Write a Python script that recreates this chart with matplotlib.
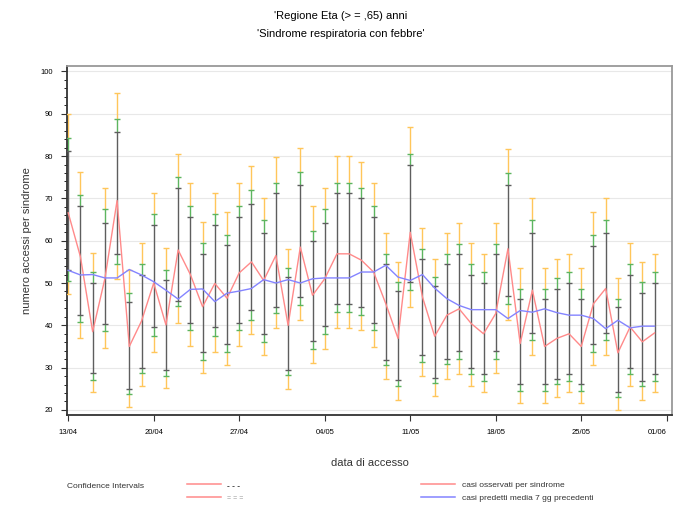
import numpy as np
import matplotlib
matplotlib.use("Agg")
import matplotlib.pyplot as plt

plt.rcParams["font.family"] = ["Liberation Sans", "DejaVu Sans"]

# days since 13/04
days = list(range(49))

obs = [66.6, 56.2, 38.5, 51.0, 69.5, 35.0, 41.0, 50.0, 40.1, 57.8,
       52.0, 44.4, 49.9, 46.4, 52.4, 55.0, 50.6, 56.5, 40.0, 58.5,
       47.1, 51.0, 56.9, 56.9, 55.4, 52.6, 45.1, 36.9, 62.0, 46.7,
       37.4, 42.4, 43.9, 40.4, 38.0, 42.8, 58.1, 35.7, 48.3, 35.0,
       36.9, 38.0, 35.0, 45.1, 48.7, 33.5, 39.6, 36.1, 38.2]

pred = [53.0, 51.9, 52.0, 51.2, 51.2, 53.2, 51.9, 50.3, 48.3, 46.2,
        48.5, 48.6, 45.6, 47.6, 48.1, 48.7, 50.8, 50.0, 50.8, 50.0,
        51.0, 51.2, 51.2, 51.2, 52.6, 52.6, 54.2, 51.4, 50.6, 52.0,
        48.8, 46.3, 44.7, 43.7, 43.7, 43.7, 41.6, 43.5, 43.1, 43.9,
        43.0, 42.4, 42.4, 41.6, 39.2, 41.2, 39.4, 39.8, 39.8]

# interval limits: outer (orange), middle (green), inner (black)
orange_hi = [90.0, 76.3, 57.0, 72.4, 95.0, 53.1, 59.4, 71.3, 58.2, 80.6,
             73.7, 64.4, 71.3, 66.8, 73.7, 77.6, 70.1, 79.9, 58.1, 81.9,
             68.1, 72.5, 80.0, 80.0, 78.7, 73.7, 61.8, 55.0, 86.9, 63.1,
             55.6, 61.8, 64.3, 59.4, 56.9, 64.3, 81.7, 53.6, 70.1, 53.6,
             55.6, 56.9, 53.6, 66.9, 70.1, 51.3, 59.4, 55.0, 56.9]
green_hi = [84.3, 70.7, 52.5, 67.4, 88.7, 47.6, 54.4, 66.2, 53.1, 75.0,
            68.1, 59.4, 66.2, 61.4, 68.1, 71.9, 65.0, 73.7, 53.6, 76.2,
            62.4, 67.4, 73.7, 73.7, 72.5, 68.1, 56.9, 50.2, 80.6, 58.1,
            51.4, 56.9, 59.3, 54.4, 52.5, 59.3, 76.1, 48.7, 65.0, 48.7,
            51.3, 52.5, 48.7, 61.3, 65.0, 46.3, 54.4, 50.2, 52.5]
black_hi = [81.3, 68.3, 50.0, 64.3, 85.7, 45.6, 51.9, 63.7, 50.7, 72.4,
            65.7, 56.9, 63.7, 59.0, 65.7, 68.7, 61.8, 71.3, 51.4, 73.1,
            59.9, 64.3, 71.3, 71.3, 70.1, 65.6, 54.6, 48.1, 78.0, 55.6,
            49.4, 54.4, 56.9, 51.8, 50.1, 56.9, 73.1, 46.3, 61.9, 46.3,
            48.7, 50.1, 46.3, 58.7, 61.9, 44.3, 51.8, 47.6, 50.1]
black_lo = [53.0, 42.5, 28.8, 40.3, 56.9, 24.9, 30.0, 39.5, 29.5, 45.8,
            40.5, 33.8, 39.5, 35.6, 40.5, 43.7, 38.0, 44.3, 29.4, 46.7,
            36.2, 39.8, 45.1, 45.1, 44.3, 40.6, 31.9, 27.0, 50.2, 33.1,
            27.6, 32.1, 33.9, 30.0, 28.6, 33.9, 46.9, 26.2, 38.2, 26.2,
            27.4, 28.6, 26.2, 35.5, 38.2, 24.3, 30.0, 26.9, 28.6]
green_lo = [50.5, 40.9, 27.1, 38.6, 54.6, 23.8, 28.7, 37.5, 28.0, 44.6,
            39.0, 31.8, 37.5, 33.8, 39.0, 41.3, 36.1, 42.8, 28.2, 44.9,
            34.3, 38.0, 43.1, 43.1, 42.4, 38.8, 30.6, 25.6, 48.3, 31.3,
            26.4, 30.8, 32.1, 28.6, 26.9, 32.0, 45.1, 24.4, 36.5, 24.4,
            26.1, 26.9, 24.4, 33.7, 36.5, 23.1, 28.6, 25.6, 26.9]
orange_lo = [47.5, 37.0, 24.3, 34.6, 50.9, 20.8, 25.7, 33.8, 25.1, 40.6,
             35.0, 28.7, 33.8, 30.6, 35.0, 38.0, 33.1, 39.4, 24.9, 41.2,
             31.2, 34.3, 39.4, 39.4, 38.8, 34.9, 27.4, 22.4, 44.3, 28.0,
             23.2, 27.4, 28.6, 25.6, 24.3, 28.7, 41.3, 21.7, 33.1, 21.7,
             23.1, 24.3, 21.7, 30.6, 33.1, 19.9, 25.6, 22.4, 24.3]

week_pos = [0, 7, 14, 21, 28, 35, 42, 49]
week_lab = ["13/04", "20/04", "27/04", "04/05", "11/05", "18/05", "25/05", "01/06"]

ORANGE = "#FFC65A"
GREEN = "#5DB55F"
BLACK = "#5E5E5E"
RED = "#FF8A8A"
BLUE = "#8484FF"

fig = plt.figure(figsize=(6.75, 5.07), dpi=100)
ax = fig.add_axes([67 / 675, 1 - 415 / 507, 605 / 675, 349 / 507])

x = np.array(days)
for y in range(20, 101, 10):
    ax.axhline(y, color="#E8E8E8", lw=0.8, zorder=0)

# interval bars
ax.vlines(x, green_hi, orange_hi, color=ORANGE, lw=1.0, zorder=2)
ax.vlines(x, orange_lo, green_lo, color=ORANGE, lw=1.0, zorder=2)
ax.vlines(x, black_hi, green_hi, color=GREEN, lw=1.0, zorder=2)
ax.vlines(x, green_lo, black_lo, color=GREEN, lw=1.0, zorder=2)
ax.vlines(x, black_lo, black_hi, color=BLACK, lw=1.0, zorder=2)
for vals, col in [(orange_hi, ORANGE), (orange_lo, ORANGE),
                  (green_hi, GREEN), (green_lo, GREEN),
                  (black_hi, BLACK), (black_lo, BLACK)]:
    ax.plot(x, vals, ls="none", marker="_", ms=5, mew=1.0, color=col, zorder=3)

ax.plot(x, obs, color=RED, lw=1.0, zorder=4)
ax.plot(x, pred, color=BLUE, lw=1.0, zorder=4)

ax.set_xlim(-0.1, 49.43)
ax.set_ylim(18.8, 101.3)
ax.set_xticks(week_pos)
ax.set_xticklabels(week_lab)
ax.get_xticklabels()[-1].set_horizontalalignment("right")
ax.set_yticks(range(20, 101, 10))
ax.set_yticks(range(20, 101, 2), minor=True)
ax.tick_params(axis="both", labelsize=5.5, color="#333333", width=0.8, length=4, pad=6)
ax.tick_params(axis="y", which="minor", length=2.5, width=0.6)
for s in ax.spines.values():
    s.set_color("#999999")
    s.set_linewidth(1.3)
ax.spines["left"].set_color("#333333")
ax.spines["bottom"].set_color("#333333")

ax.set_ylabel("numero accessi per sindrome", fontsize=8, color="#333333", labelpad=6)
ax.set_xlabel("data di accesso", fontsize=8, color="#333333", labelpad=16)

fig.text(0.505, 1 - 16 / 507, "'Regione Eta (> = ,65) anni", ha="center", va="center", fontsize=8)
fig.text(0.505, 1 - 34 / 507, "'Sindrome respiratoria con febbre'", ha="center", va="center", fontsize=8)

# legend
def fx(px):
    return px / 675

def fy(py):
    return 1 - py / 507

fig.text(fx(67), fy(487), "Confidence Intervals", fontsize=6, va="center", color="#333333")
fig.add_artist(plt.Line2D([fx(187), fx(221)], [fy(484), fy(484)], color=RED, lw=1.1))
fig.add_artist(plt.Line2D([fx(187), fx(221)], [fy(497), fy(497)], color=RED, lw=1.1))
fig.text(fx(227), fy(487), "- - -", fontsize=6, va="center", color="#222222", fontweight="bold")
fig.text(fx(227), fy(498.5), "= = =", fontsize=5, va="center", color="#999999")
fig.add_artist(plt.Line2D([fx(421), fx(455)], [fy(484), fy(484)], color=RED, lw=1.1))
fig.add_artist(plt.Line2D([fx(421), fx(455)], [fy(497), fy(497)], color=BLUE, lw=1.1))
fig.text(fx(462), fy(485.5), "casi osservati per sindrome", fontsize=6, va="center", color="#333333")
fig.text(fx(462), fy(499), "casi predetti media 7 gg precedenti", fontsize=6, va="center", color="#333333")

fig.savefig("out.png", dpi=100)
